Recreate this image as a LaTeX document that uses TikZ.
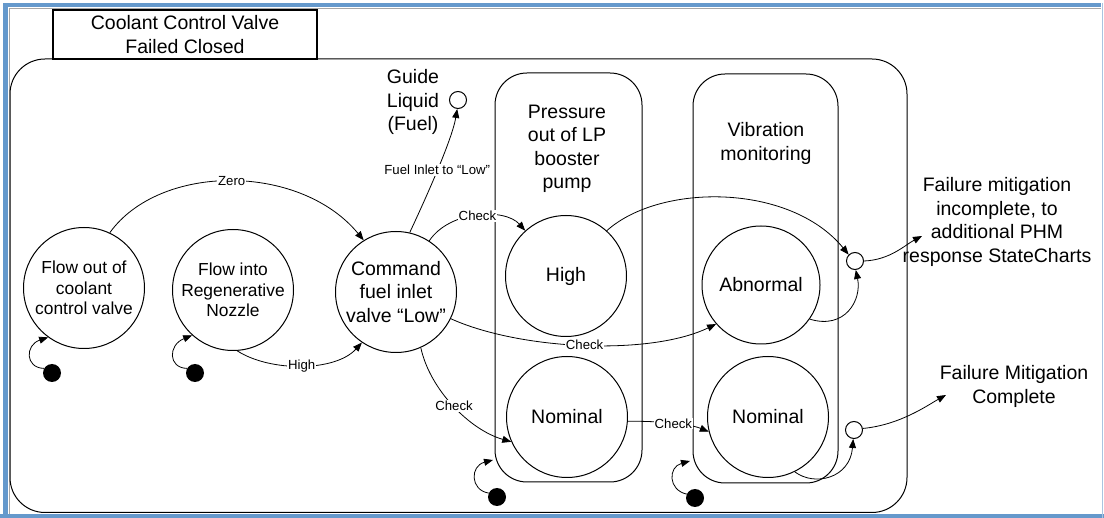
\documentclass[tikz,border=0pt]{standalone}
\usepackage{fontspec}
\setmainfont{Liberation Sans}
\usetikzlibrary{arrows.meta}
\definecolor{frameblue}{RGB}{101,153,204}
\definecolor{framelight}{RGB}{170,196,224}

\begin{document}
\begin{tikzpicture}[x=1pt,y=-1pt,
  ln/.style={line width=1pt, draw=black},
  state/.style={circle, draw, line width=1pt, inner sep=0pt, minimum size=121pt, align=center, font=\fontsize{19.5}{23.5}\selectfont},
  smallstate/.style={state, font=\fontsize{17.4}{20.3}\selectfont},
  final/.style={circle, draw, line width=1pt, fill=white, inner sep=0pt, minimum size=17pt},
  initial/.style={circle, fill=black, inner sep=0pt, minimum size=18pt},
  region/.style={draw, line width=1pt, rounded corners=32pt, minimum width=147pt, minimum height=409pt},
  txt/.style={align=center, font=\fontsize{19.5}{23.5}\selectfont, inner sep=0pt},
  trans/.style={line width=0.8pt, -{Triangle[length=9pt,width=7pt]}},
  lbl/.style={font=\fontsize{13.2}{15}\selectfont, fill=white, inner sep=1pt, midway}
]
\useasboundingbox (0,0) rectangle (1104,518);

% window frame
\fill[frameblue] (3,3) rectangle (8,518);
\fill[frameblue] (3,3) rectangle (1101,7);
\fill[frameblue] (0,514.5) rectangle (1104,518);
\fill[framelight] (1101.5,3) rectangle (1103,518);
\draw[gray!70, line width=0.6pt] (9,514) -- (9,8) -- (1101,8);

% superstate and its name tab
\draw[ln, rounded corners=35pt] (10,59) rectangle (907,512.5);
\node[draw, line width=1.2pt, minimum width=264pt, minimum height=49pt, txt] (title) at (185,34.5) {Coolant Control Valve\\Failed Closed};

% orthogonal regions
\node[region] (pbox) at (568.5,277.5) {};
\node[region, minimum width=145pt] (vbox) at (765.5,278.5) {};
\node[txt] (ptxt) at (567,149) {Pressure\\out of LP\\booster\\pump};
\node[txt] (vtxt) at (766,143.5) {Vibration\\monitoring};

% states
\node[smallstate] (fo) at (84,288) {Flow out of\\coolant\\control valve};
\node[smallstate] (fi) at (233,290) {Flow into\\Regenerative\\Nozzle};
\node[state] (cmd) at (396,292) {Command\\fuel inlet\\valve “Low”};
\node[state] (hi) at (566,276) {High};
\node[state] (pn) at (567,417) {Nominal};
\node[state, minimum size=118pt] (ab) at (761,285) {Abnormal};
\node[state] (vn) at (768,417) {Nominal};

% final states
\node[final] (gf) at (458,100) {};
\node[final] (inc) at (855,261) {};
\node[final] (cmp) at (854,430) {};

% initial pseudostates
\node[initial] (i1) at (52,373) {};
\node[initial] (i2) at (195,373) {};
\node[initial] (i3) at (497,497) {};
\node[initial] (i4) at (695,498) {};

% free texts
\node[txt] (guide) at (413,102) {Guide\\Liquid\\(Fuel)};
\node[txt] (inctxt) at (997,222) {Failure mitigation\\incomplete, to\\additional PHM\\response StateCharts};
\node[txt] (cmptxt) at (1014,386.5) {Failure Mitigation\\Complete};

\coordinate (pin) at (493,460);
\coordinate (vin) at (690,461);
\coordinate (incin) at (922,236);
\coordinate (cmpin) at (946,395);

% transitions
\draw[trans] (fo.65) .. controls (160,163) and (300,163) .. node[lbl]{Zero} (cmd.122);
\draw[trans] (fi.-86) .. controls (270,372) and (335,372) .. node[lbl]{High} (cmd.-124);
\draw[trans] (cmd.77) .. controls (425,200) and (452,140) .. node[lbl]{Fuel Inlet to “Low”} (gf.-95);
\draw[trans] (cmd.57) .. controls (450,210) and (505,208) .. node[lbl]{Check} (hi.132);
\draw[trans] (cmd.-26) .. controls (520,350) and (650,356) .. node[lbl]{Check} (ab.-139);
\draw[trans] (cmd.-66) .. controls (430,390) and (470,430) .. node[lbl]{Check} (pn.-156);
\draw[trans] (pn.-4) .. controls (660,421) and (690,424) .. node[lbl]{Check} (vn.-166);
\draw[trans] (hi.48) .. controls (660,183) and (790,183) .. (inc.135);
\draw[trans] (ab.-35) .. controls (845,330) and (862,300) .. (inc.-85);
\draw[trans] (inc.east) .. controls (890,260) and (905,245) .. (incin);
\draw[trans] (vn.-64) .. controls (815,487) and (850,478) .. (cmp.-95);
\draw[trans] (cmp.10) .. controls (900,425) and (928,405) .. (cmpin);

% default transitions
\draw[trans] (i1.150) .. controls (25,368) and (25,345) .. (fo.-126);
\draw[trans] (i2.150) .. controls (168,368) and (168,345) .. (fi.-132);
\draw[trans] (i3.155) .. controls (470,490) and (470,466) .. (pin);
\draw[trans] (i4.155) .. controls (668,490) and (668,467) .. (vin);
\end{tikzpicture}
\end{document}
